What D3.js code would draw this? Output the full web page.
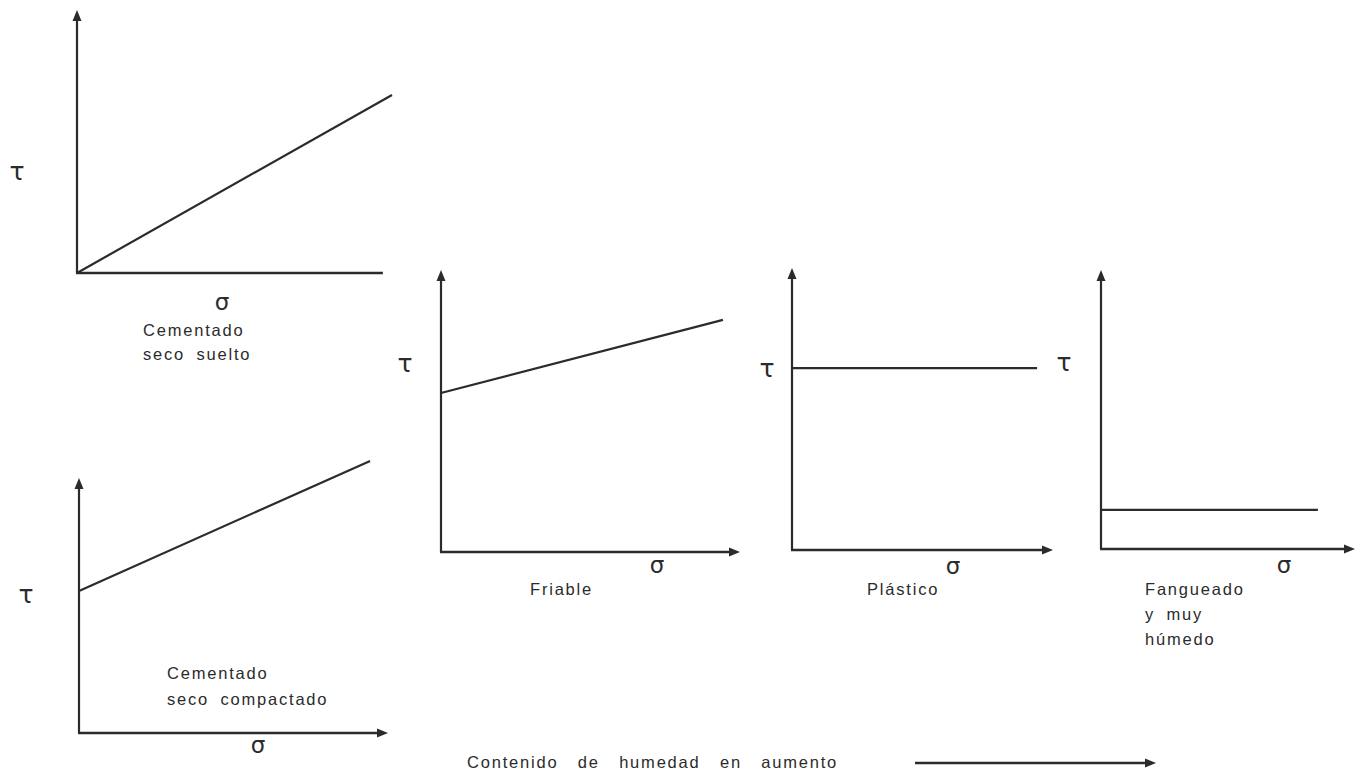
<!DOCTYPE html>
<html><head><meta charset="utf-8">
<script src="https://cdn.jsdelivr.net/npm/d3@7"></script>
<style>body{margin:0;background:#fff}</style></head>
<body><svg id="chart" width="1356" height="772"></svg>
<script>
// ---- data (schematic units: axes run 0..10) ----
const panels    = ["Cementado seco suelto","Cementado seco compactado","Friable","Plástico","Fangueado y muy húmedo"];
const captions  = [["Cementado","seco suelto"],["Cementado","seco compactado"],["Friable"],["Plástico"],["Fangueado","y muy","húmedo"]];
const tauStart  = [0, 5.57, 5.64, 6.45, 1.40];   // τ at σ = 0
const sigmaEnd  = [10, 9.42, 9.43, 9.39, 8.54];   // σ where the envelope ends
const tauEnd    = [6.77, 10.67, 8.23, 6.45, 1.40];
const xAxisEnd  = [9.71, 10, 10, 10, 10];
const xArrow    = [false, true, true, true, true];
const yLabel = "τ", xLabel = "σ";
const footnote = "Contenido de humedad en aumento";

// ---- layout ----
const frames = [
  {ox:77,  oy:273, w:315, h:263, tau:[-60,-102], sig:[145,29], cap:[66,[63,87]]},
  {ox:79,  oy:733, w:309, h:255, tau:[-53,-139], sig:[179,12], cap:[88,[-54,-28]]},
  {ox:441, oy:552, w:299, h:282, tau:[-36,-189], sig:[216,13], cap:[89,[43]]},
  {ox:792, oy:550, w:261, h:282, tau:[-25,-182], sig:[161,16], cap:[75,[45]]},
  {ox:1101,oy:549, w:254, h:279, tau:[-37,-187], sig:[183,16], cap:[44,[46,71,96]]}
];
const ink = "#2b2b2b";
const capFont = "Liberation Sans, Arial, sans-serif";
const svg = d3.select("#chart");
svg.append("rect").attr("width",1356).attr("height",772).attr("fill","#fff");

function arrowHead(g, x, y, dir){
  const L = 11, W = 4.5;
  let pts;
  if (dir === "up") pts = [[x,y],[x-W,y+L],[x+W,y+L]];
  else pts = [[x,y],[x-L,y-W],[x-L,y+W]];
  g.append("path").attr("d", d3.line()(pts) + "Z").attr("fill", ink);
}

panels.forEach((name, i) => {
  const f = frames[i];
  const x = d3.scaleLinear().domain([0,10]).range([f.ox, f.ox + f.w]);
  const y = d3.scaleLinear().domain([0,10]).range([f.oy, f.oy - f.h]);
  const g = svg.append("g").attr("class","panel").attr("data-name", name);

  // axes
  g.append("line").attr("x1", x(0)).attr("y1", y(0)).attr("x2", x(0)).attr("y2", y(10)+6)
    .attr("stroke", ink).attr("stroke-width", 2.2);
  arrowHead(g, x(0), y(10), "up");
  const xe = xAxisEnd[i];
  g.append("line").attr("x1", x(0)-1).attr("y1", y(0)).attr("x2", xArrow[i] ? x(xe)-6 : x(xe)).attr("y2", y(0))
    .attr("stroke", ink).attr("stroke-width", 2.4);
  if (xArrow[i]) arrowHead(g, x(xe), y(0), "right");

  // strength envelope
  g.append("path")
    .datum([[0, tauStart[i]], [sigmaEnd[i], tauEnd[i]]])
    .attr("d", d3.line().x(d => x(d[0])).y(d => y(d[1])))
    .attr("stroke", ink).attr("stroke-width", 2.2).attr("fill","none");

  // symbols
  g.append("text").attr("x", f.ox + f.tau[0]).attr("y", f.oy + f.tau[1])
    .attr("text-anchor","middle").attr("dominant-baseline","central")
    .attr("font-family","DejaVu Sans").attr("font-size",25).attr("fill",ink).text(yLabel);
  g.append("text").attr("x", f.ox + f.sig[0]).attr("y", f.oy + f.sig[1])
    .attr("text-anchor","middle").attr("dominant-baseline","central")
    .attr("font-family","DejaVu Sans").attr("font-size",23).attr("fill",ink).text(xLabel);

  // caption
  captions[i].forEach((line, k) => {
    g.append("text").attr("x", f.ox + f.cap[0]).attr("y", f.oy + f.cap[1][k])
      .attr("font-family", capFont).attr("font-size",16.5)
      .attr("letter-spacing", 1.8).attr("word-spacing", 5)
      .attr("fill", ink).text(line);
  });
});

// footnote with arrow
svg.append("text").attr("x", 467).attr("y", 768)
  .attr("font-family", capFont).attr("font-size",16.5)
  .attr("letter-spacing", 1.8).attr("word-spacing", 13).attr("fill", ink).text(footnote);
const fa = svg.append("g");
fa.append("line").attr("x1", 915).attr("y1", 763).attr("x2", 1148).attr("y2", 763)
  .attr("stroke", ink).attr("stroke-width", 2.4);
arrowHead(fa, 1156, 763, "right");
</script>
</body></html>
